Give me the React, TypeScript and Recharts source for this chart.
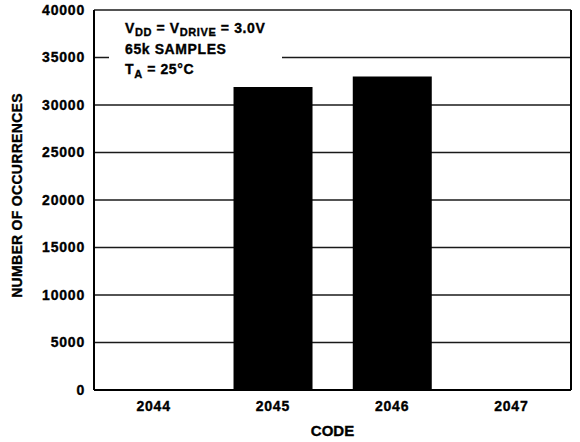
import React from 'react';
import { BarChart, Bar, XAxis, YAxis, CartesianGrid } from 'recharts';

const codes = ['2044', '2045', '2046', '2047'];
const occurrences = [0, 31900, 33000, 0];
const yTicks = [0, 5000, 10000, 15000, 20000, 25000, 30000, 35000, 40000];

const data = codes.map((c, i) => ({ code: c, count: occurrences[i] }));

const FONT = '"Liberation Sans", Arial, Helvetica, sans-serif';
const tickStyle = {
  fontFamily: FONT,
  fontWeight: 700,
  fontSize: 14,
  fill: '#000',
  stroke: '#000',
  strokeWidth: 0.35,
  letterSpacing: 0.8,
};

const YLabel = (props: any) => {
  const vb = props.viewBox || {};
  const cx = vb.x + 22;
  const cy = vb.y + vb.height / 2 - 4.5;
  return (
    <text
      x={cx}
      y={cy}
      transform={`rotate(-90 ${cx} ${cy})`}
      textAnchor="middle"
      fontFamily={FONT}
      fontWeight={700}
      fontSize={14}
      letterSpacing={0.3}
      fill="#000"
      stroke="#000"
      strokeWidth={0.35}
    >
      NUMBER OF OCCURRENCES
    </text>
  );
};

const XLabel = (props: any) => {
  const vb = props.viewBox || {};
  return (
    <text
      x={vb.x + vb.width / 2}
      y={vb.y + 45.5}
      textAnchor="middle"
      fontFamily={FONT}
      fontWeight={700}
      fontSize={15}
      fill="#000"
      stroke="#000"
      strokeWidth={0.35}
    >
      CODE
    </text>
  );
};

const edgeLines = (props: any) => {
  const o = props.offset;
  return [o.left, o.left + o.width];
};

export default function App() {
  return (
    <div style={{ position: 'absolute', left: 0, top: 0, width: 580, height: 442, background: '#fff' }}>
      <BarChart
        width={580}
        height={442}
        data={data}
        margin={{ top: 10, right: 9, left: 0, bottom: 0 }}
        barCategoryGap="17%"
      >
        <CartesianGrid
          stroke="#1a1a1a"
          strokeWidth={1.3}
          verticalCoordinatesGenerator={edgeLines}
        />
        <CartesianGrid
          horizontal={false}
          stroke="#000"
          strokeWidth={2}
          verticalCoordinatesGenerator={edgeLines}
        />
        <XAxis
          dataKey="code"
          height={52}
          tickLine={false}
          tickSize={0}
          tickMargin={11}
          axisLine={{ stroke: '#000', strokeWidth: 2 }}
          tick={tickStyle}
          label={<XLabel />}
        />
        <YAxis
          width={94}
          domain={[0, 40000]}
          ticks={yTicks}
          interval={0}
          tickLine={false}
          tickSize={0}
          tickMargin={9}
          axisLine={{ stroke: '#000', strokeWidth: 2 }}
          tick={tickStyle}
          label={<YLabel />}
        />
        <Bar dataKey="count" fill="#000" isAnimationActive={false} />
      </BarChart>
      <svg
        width={580}
        height={442}
        style={{ position: 'absolute', left: 0, top: 0, pointerEvents: 'none' }}
      >
        <rect x={109} y={13} width={173} height={64} fill="#fff" />
        <g
          fontFamily={FONT}
          fontWeight={700}
          fontSize={14}
          fill="#000"
          stroke="#000"
          strokeWidth={0.35}
          letterSpacing={0.6}
        >
          <text x={125} y={33}>
            V<tspan fontSize={11} dy={3}>DD</tspan>
            <tspan dy={-3}> = V</tspan>
            <tspan fontSize={11} dy={3}>DRIVE</tspan>
            <tspan dy={-3}> = 3.0V</tspan>
          </text>
          <text x={125} y={53.5}>65k SAMPLES</text>
          <text x={125} y={74}>
            T<tspan fontSize={11} dy={4}>A</tspan>
            <tspan dy={-4}> = 25°C</tspan>
          </text>
        </g>
      </svg>
    </div>
  );
}
